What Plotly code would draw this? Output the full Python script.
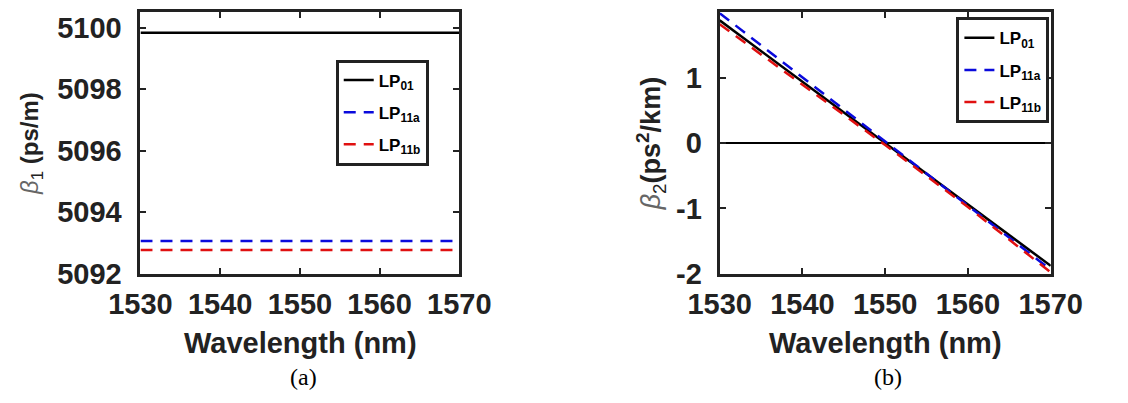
import plotly.graph_objects as go

# Wavelength grid (nm)
wavelength = [1530, 1540, 1550, 1560, 1570]

# (a) group delay parameter beta1 (ps/m)
beta1_lp01 = [5099.84, 5099.84, 5099.84, 5099.84, 5099.84]
beta1_lp11a = [5093.06, 5093.06, 5093.06, 5093.06, 5093.06]
beta1_lp11b = [5092.77, 5092.77, 5092.77, 5092.77, 5092.77]

# (b) group velocity dispersion beta2 (ps^2/km)
beta2_lp01 = [1.88, 0.94, 0.0, -0.94, -1.88]
beta2_lp11a = [1.99, 1.01, 0.02, -0.96, -1.94]
beta2_lp11b = [1.82, 0.90, -0.03, -0.98, -1.98]

mode_names = ["LP<sub>01</sub>", "LP<sub>11a</sub>", "LP<sub>11b</sub>"]
x_ticks = [1530, 1540, 1550, 1560, 1570]
y1_ticks = [5092, 5094, 5096, 5098, 5100]
y2_ticks = [-2, -1, 0, 1, 2]
y2_ticktext = ["-2", "-1", "0", "1", "2"]

W, H = 1128, 403
SANS = "Liberation Sans, Arial, sans-serif"
SERIF = "Liberation Serif, Times New Roman, serif"
INK = "#222222"

styles = [
    dict(color="#000000", width=2.5, dash="solid"),
    dict(color="#0a0adc", width=2.5, dash="12px,8px"),
    dict(color="#e01010", width=2.5, dash="12px,8px"),
]

fig = go.Figure()

for i, (name, ys, st) in enumerate(zip(mode_names, [beta1_lp01, beta1_lp11a, beta1_lp11b], styles)):
    fig.add_trace(go.Scatter(x=wavelength, y=ys, mode="lines", name=name,
                             line=st, xaxis="x", yaxis="y", legend="legend",
                             legendgroup=f"a{i}"))

for i, (name, ys, st) in enumerate(zip(mode_names, [beta2_lp01, beta2_lp11a, beta2_lp11b], styles)):
    fig.add_trace(go.Scatter(x=wavelength, y=ys, mode="lines", name=name,
                             line=st, xaxis="x2", yaxis="y2", legend="legend2",
                             legendgroup=f"b{i}"))


def px_x(p):
    return p / W


def px_y(p):
    return 1 - p / H


axis_common = dict(
    showline=True, linecolor=INK, linewidth=3, mirror="ticks",
    ticks="inside", ticklen=6, tickwidth=2, tickcolor=INK,
    showgrid=False, zeroline=False,
    tickfont=dict(family=SANS, size=29, color=INK, weight="bold"),
)

legend_common = dict(
    bgcolor="white", bordercolor=INK, borderwidth=3,
    font=dict(family=SANS, size=17, color="#000000", weight="bold"),
    itemwidth=30, xanchor="left", yanchor="top", tracegroupgap=7,
)

beta_span = "<span style='color:#666666'><i>β</i></span>"
y1_title = beta_span + "<sub>1</sub> <b>(ps/m)</b>"
y2_title = beta_span + "<sub>2</sub><b>(ps<sup>2</sup>/km)</b>"

fig.update_layout(
    width=W, height=H,
    margin=dict(l=0, r=0, t=0, b=0),
    paper_bgcolor="white", plot_bgcolor="white",
    showlegend=True,
    xaxis=dict(domain=[px_x(115), px_x(453)], range=[1530, 1570],
               tickvals=x_ticks, anchor="y", ticklabelstandoff=3, **axis_common),
    yaxis=dict(domain=[px_y(285), px_y(13)], range=[5092, 5100.5],
               tickvals=y1_ticks, anchor="x", ticklabelstandoff=10,
               title=dict(text=y1_title, standoff=12,
                          font=dict(family=SANS, size=24, color=INK)),
               **axis_common),
    xaxis2=dict(domain=[px_x(729), px_x(1080)], range=[1530, 1570],
                tickvals=x_ticks, anchor="y2", ticklabelstandoff=3, **axis_common),
    yaxis2=dict(domain=[px_y(285), px_y(13)], range=[-2, 2],
                tickvals=y2_ticks, ticktext=y2_ticktext, anchor="x2",
                ticklabelstandoff=9,
                title=dict(text=y2_title, standoff=8,
                           font=dict(family=SANS, size=27, color=INK)),
                **axis_common),
    legend=dict(x=px_x(322), y=px_y(62), **legend_common),
    legend2=dict(x=px_x(980), y=px_y(18), **legend_common),
)

# horizontal reference at zero dispersion
fig.layout.yaxis2.zeroline = True
fig.layout.yaxis2.zerolinecolor = "#000000"
fig.layout.yaxis2.zerolinewidth = 1.5

annotations = [
    # x-axis titles
    dict(text="<b>Wavelength (nm)</b>", x=px_x(285), y=px_y(357),
         font=dict(family=SANS, size=29, color=INK)),
    dict(text="<b>Wavelength (nm)</b>", x=px_x(905), y=px_y(357),
         font=dict(family=SANS, size=29, color=INK)),
    # panel labels
    dict(text="(a)", x=px_x(288), y=px_y(393), font=dict(family=SERIF, size=24, color="#000000")),
    dict(text="(b)", x=px_x(908), y=px_y(393), font=dict(family=SERIF, size=24, color="#000000")),
]
for a in annotations:
    a.update(xref="paper", yref="paper", showarrow=False, xanchor="center", yanchor="middle")
fig.update_layout(annotations=annotations)

fig.write_html("out.html")
